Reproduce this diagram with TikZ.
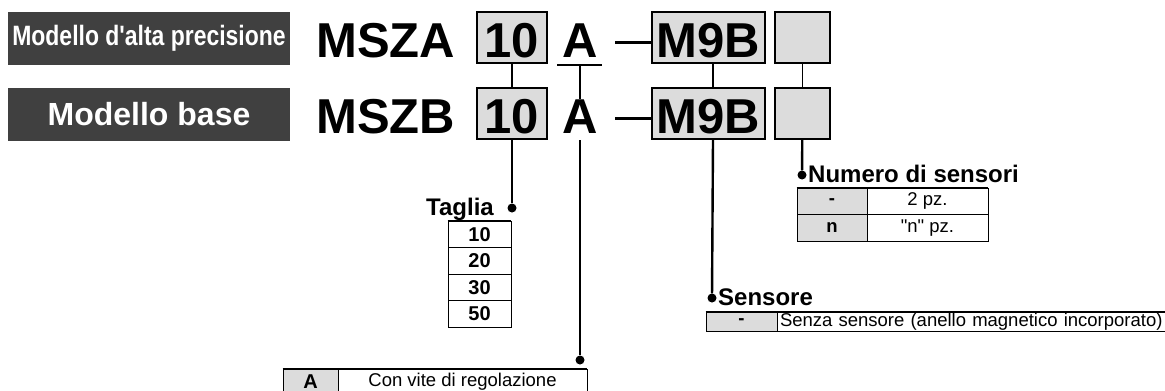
\documentclass[tikz,border=0pt]{standalone}
\usepackage{fontspec}
\setmainfont{Liberation Sans}
\newfontfamily\narrowsans[FakeStretch=0.82]{Liberation Sans}
\usetikzlibrary{positioning}
\definecolor{labelgray}{HTML}{404040}
\definecolor{cellgray}{HTML}{DCDCDC}
\newcommand\codefont{\fontsize{49}{49}\selectfont\bfseries}
\newcommand\headfont{\fontsize{24}{24}\selectfont\bfseries}
\newcommand\cellfont{\fontsize{18.5}{18.5}\selectfont}

\begin{document}
\begin{tikzpicture}[x=1pt, y=-1pt,
    modelbox/.style={fill=labelgray, text=white, minimum width=282pt,
                     minimum height=53pt, inner sep=0pt},
    codebox/.style={draw, fill=cellgray, line width=1.3pt, minimum height=51pt,
                    inner sep=0pt, text height=39pt, text depth=0pt, font=\codefont},
    code/.style={anchor=base west, inner sep=0pt, font=\codefont},
    link/.style={line width=1.5pt},
    lead/.style={line width=2.4pt},
    dot/.style={circle, fill, inner sep=0pt, minimum size=9pt},
    head/.style={inner sep=0pt, font=\headfont},
    keycell/.style={draw, fill=cellgray, line width=0.8pt, inner sep=0pt,
                    font=\cellfont\bfseries},
    valcell/.style={draw, line width=0.8pt, inner sep=0pt, font=\cellfont},
    headrule/.style={line width=2pt},
]
    \useasboundingbox (0,0) rectangle (1165,391);

    % model labels
    \node[modelbox] (precLabel) at (149,38.5)
        {\narrowsans\fontsize{28}{28}\selectfont\bfseries Modello d'alta precisione};
    \node[modelbox] (baseLabel) at (149,114.5)
        {\fontsize{32}{32}\selectfont\bfseries Modello base};

    % code rows
    \node[code] (seriesA) at (316,57) {MSZA};
    \node[codebox, minimum width=70pt] (sizeA) at (512,37.5) {10};
    \node[code] (portA) at (562,57) {A};
    \node[codebox, minimum width=113pt] (sensA) at (708.5,37.5) {M9B};
    \node[codebox, minimum width=55pt] (numA) at (802.5,37.5) {};
    \coordinate (ruleL) at (557,65);
    \coordinate (ruleR) at (602,65);
    \coordinate (dashA) at (615,42);

    \node[code] (seriesB) at (316,133) {MSZB};
    \node[codebox, minimum width=70pt] (sizeB) at (512,113.5) {10};
    \node[code] (portB) at (562,133) {A};
    \node[codebox, minimum width=113pt] (sensB) at (708.5,113.5) {M9B};
    \node[codebox, minimum width=55pt] (numB) at (802.5,113.5) {};
    \coordinate (dashB) at (615,118);

    \draw[lead] (ruleL) -- (ruleR);
    \draw[line width=3pt] (dashA) -- (sensA.west |- dashA);
    \draw[line width=3pt] (dashB) -- (sensB.west |- dashB);
    \draw[link] (sizeA) -- (sizeB);
    \draw[link] (580,65) -- (portB.north -| 580,65);
    \draw[link] ([xshift=4.5pt]sensA.south) -- ([xshift=4.5pt]sensB.north);
    \draw[link] (numA) -- (numB);

    % size
    \node[dot] (sizeDot) at (512,208) {};
    \node[head, anchor=base east] (sizeHead) at (494,215) {Taglia};
    \foreach \val [count=\i] in {10,20,30,50}
        \node[valcell, font=\fontsize{20}{20}\selectfont\bfseries,
              minimum width=63pt, minimum height=26.5pt]
              (size\i) at (479.5,207.75+26.5*\i) {\val};
    \draw[headrule] (size1.north west) -- (size1.north east);
    \draw[lead] (sizeB) -- (sizeDot);

    % number of switches
    \node[dot] (numDot) at (802,175) {};
    \node[head, anchor=base west] (numHead) at (808,182) {Numero di sensori};
    \node[keycell, minimum width=70pt, minimum height=26.5pt] (numKey1) at (832,201.25) {-};
    \node[valcell, minimum width=121pt, minimum height=26.5pt] (numVal1) at (927.5,201.25) {2 pz.};
    \node[keycell, minimum width=70pt, minimum height=26.5pt] (numKey2) at (832,227.75) {n};
    \node[valcell, minimum width=121pt, minimum height=26.5pt] (numVal2) at (927.5,227.75)
        {\textquotedbl n\textquotedbl{} pz.};
    \draw[headrule] (numKey1.north west) -- (numVal1.north east);
    \draw[lead] (numB) -- (numDot);

    % switch
    \node[dot] (sensDot) at (712,298) {};
    \node[head, anchor=base west] (sensHead) at (718,305) {Sensore};
    \node[keycell, minimum width=71pt, minimum height=19pt] (sensKey) at (741.5,321.5) {-};
    \node[valcell, minimum height=19pt, text width=385pt, inner xsep=3pt, align=left]
        (sensVal) at (972.5,321.5) {Senza sensore (anello magnetico incorporato)};
    \draw[headrule] (sensKey.north west) -- (sensVal.north east);
    \draw[lead] ([xshift=4.5pt]sensB.south) -- (sensDot);

    % port
    \node[dot] (portDot) at (580,360) {};
    \node[keycell, font=\fontsize{20}{20}\selectfont\bfseries,
          minimum width=55pt, minimum height=26pt] (portKey) at (310.5,382) {A};
    \node[valcell, minimum width=249pt, minimum height=26pt] (portVal) at (462.5,382)
        {Con vite di regolazione};
    \draw[headrule] (portKey.north west) -- (portVal.north east);
    \draw[lead] (580,140) -- (portDot);
\end{tikzpicture}
\end{document}
